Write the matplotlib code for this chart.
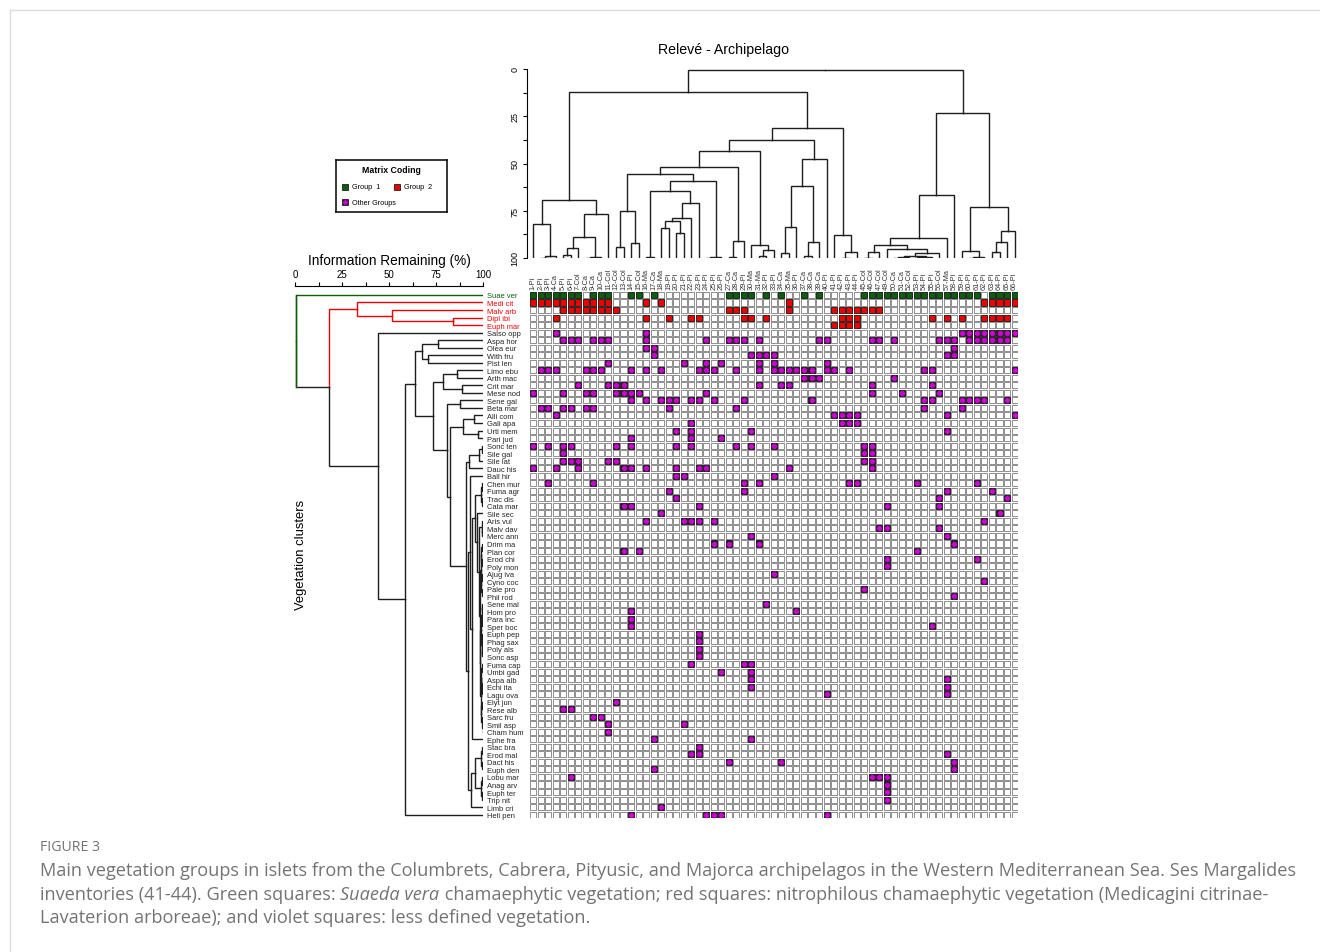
import matplotlib.pyplot as plt
from matplotlib.patches import Rectangle
from matplotlib.collections import PatchCollection

# plain Arial-like look for the plot, caption in Open Sans
plt.rcParams['font.family'] = ['Liberation Sans', 'DejaVu Sans']

W, H = 1320, 953

GREEN = '#0b5e0b'
RED = '#ee0000'
PURPLE = '#cc00d4'
INK = '#1e1e1e'

# ---------------------------------------------------------------- data
releves = ['1-Pi', '2-Pi', '3-Pi', '4-Ca', '5-Pi', '6-Pi', '7-Col', '8-Ca', '9-Ca', '10-Ca',
           '11-Col', '12-Col', '13-Col', '14-Pi', '15-Col', '16-Ma', '17-Ca', '18-Ma', '19-Pi',
           '20-Pi', '21-Pi', '22-Pi', '23-Pi', '24-Pi', '25-Pi', '26-Pi', '27-Ca', '28-Ca',
           '29-Pi', '30-Ma', '31-Ma', '32-Pi', '33-Pi', '34-Ca', '35-Ma', '36-Pi', '37-Ca',
           '38-Ca', '39-Ca', '40-Pi', '41-Pi', '42-Pi', '43-Pi', '44-Pi', '45-Col', '46-Col',
           '47-Col', '49-Col', '50-Ca', '51-Ca', '52-Col', '53-Pi', '54-Pi', '55-Pi', '56-Col',
           '57-Ma', '58-Pi', '59-Pi', '60-Pi', '61-Pi', '62-Pi', '63-Pi', '64-Pi', '65-Pi', '66-Pi']

species = ['Suae ver', 'Medi cit', 'Malv arb', 'Dipl ibi', 'Euph mar', 'Salso opp', 'Aspa hor',
           'Olea eur', 'With fru', 'Pist len', 'Limo ebu', 'Arth mac', 'Crit mar', 'Mese nod',
           'Sene gal', 'Beta mar', 'Alli com', 'Gali apa', 'Urti mem', 'Pari jud', 'Sonc ten',
           'Sile gal', 'Sile lat', 'Dauc his', 'Ball hir', 'Chen mur', 'Fuma agr', 'Trac dis',
           'Cata mar', 'Sile sec', 'Aris vul', 'Malv dav', 'Merc ann', 'Drim ma', 'Plan cor',
           'Erod chi', 'Poly mon', 'Ajug iva', 'Cyno coc', 'Pale pro', 'Phil rod', 'Sene mal',
           'Hom pro', 'Para inc', 'Sper boc', 'Euph pep', 'Phag sax', 'Poly als', 'Sonc asp',
           'Fuma cap', 'Umbi gad', 'Aspa alb', 'Echi ita', 'Lagu ova', 'Elyt jun', 'Rese alb',
           'Sarc fru', 'Smil asp', 'Cham hum', 'Ephe fra', 'Stac bra', 'Erod mal', 'Dact his',
           'Euph den', 'Lobu mar', 'Anag arv', 'Euph ter', 'Trip nit', 'Limb cri', 'Heli pen']

green_rows = [0]
red_rows = [1, 2, 3, 4]

# occupied cells, as column positions for each species row
group1_cells = {
    0: [0, 1, 2, 3, 4, 5, 6, 8, 9, 10, 13, 14, 16, 26, 27, 28, 29, 31, 33, 36, 38,
        44, 45, 46, 47, 48, 49, 50, 51, 52, 53, 54, 55, 56, 57, 58, 59, 61, 62, 63, 64],
}
group2_cells = {
    1: [0, 1, 2, 3, 4, 5, 6, 7, 8, 9, 10, 15, 17, 34, 60, 61, 62, 63, 64],
    2: [4, 5, 6, 7, 8, 9, 10, 11, 26, 27, 28, 34, 40, 41, 42, 43, 44, 45, 46],
    3: [3, 15, 18, 21, 22, 28, 29, 31, 41, 42, 43, 53, 55, 57, 60, 61, 62, 63],
    4: [40, 41, 42, 43],
}
other_cells = {
    5: [3, 15, 57, 58, 59, 60, 61, 62, 63, 64],
    6: [4, 5, 6, 8, 9, 10, 15, 23, 26, 27, 28, 30, 38, 39, 45, 46, 48, 54, 55, 56, 58, 59,
        60, 61, 62, 63],
    7: [15, 16, 56],
    8: [16, 29, 30, 31, 32, 55, 56],
    9: [10, 20, 23, 25, 30, 32, 39],
    10: [1, 2, 3, 7, 8, 9, 13, 15, 17, 22, 23, 24, 27, 30, 32, 33, 34, 35, 36, 37, 39, 40,
         42, 52, 53, 64],
    11: [36, 37, 38, 48],
    12: [6, 10, 11, 12, 30, 33, 34, 45, 53],
    13: [0, 4, 7, 8, 11, 12, 13, 14, 23, 45, 49, 54],
    14: [13, 15, 17, 18, 19, 21, 22, 24, 28, 37, 52, 53, 57, 58, 59, 60, 63],
    15: [1, 2, 4, 5, 7, 8, 18, 27, 52, 57],
    16: [3, 40, 41, 42, 43, 55, 64],
    17: [21, 41, 42, 43],
    18: [19, 21, 29, 55],
    19: [13, 21, 25],
    20: [0, 2, 4, 5, 11, 13, 19, 21, 27, 29, 32, 44, 45],
    21: [4, 44, 45],
    22: [4, 5, 6, 10, 11, 44, 45],
    23: [0, 3, 6, 12, 13, 15, 19, 22, 23, 34, 45],
    24: [19, 20, 32],
    25: [2, 8, 28, 30, 42, 43, 51, 59],
    26: [18, 28, 55, 61],
    27: [19, 54, 63],
    28: [12, 13, 22, 47, 54],
    29: [17, 62],
    30: [15, 20, 21, 22, 24, 60],
    31: [46, 47, 54],
    32: [29, 55],
    33: [24, 26, 30, 56],
    34: [12, 14, 51],
    35: [47, 59],
    36: [47],
    37: [32],
    38: [60],
    39: [44],
    40: [56],
    41: [31],
    42: [13, 35],
    43: [13],
    44: [13, 53],
    45: [22],
    46: [22],
    47: [22],
    48: [22],
    49: [21, 28, 29],
    50: [25, 29],
    51: [29, 55],
    52: [29, 55],
    53: [39, 55],
    54: [11],
    55: [4, 5],
    56: [8, 9],
    57: [10, 20],
    58: [10],
    59: [16, 29],
    60: [22],
    61: [21, 22, 55],
    62: [26, 33, 56],
    63: [16, 56],
    64: [5, 45, 46, 47],
    65: [47],
    66: [47],
    67: [47],
    68: [17],
    69: [13, 23, 24, 25, 39],
}

# dendrograms: (information remaining %, left, right); ints are leaves
releve_tree = (0.5,
    (12.3,
        (69.1,
            (81.8, 0, (98.8, (99.8, 1, 2), 3)),
            (76.7, (88.9, (94.9, (98.2, 4, 5), 6), (99.3, (99.8, 7, 8), 9)), 10)),
        (31.2,
            (37.6,
                (43.4,
                    (51.7,
                        (55.6,
                            (75.0, (94.4, 11, 12), (92.2, 13, 14)),
                            (59.1,
                                (64.4, (99.6, 15, 16),
                                 (70.9, (79.0, (80.6, (84.3, 17, 18), (86.8, 19, 20)), 21), 22)),
                                (99.6, (99.9, 23, 24), 25))),
                        (90.8, (99.5, 26, 27), 28)),
                    (93.1, 29, (95.8, (98.8, 30, 31), 32))),
                (47.6,
                    (61.7, (83.4, (97.5, 33, 34), 35), (91.4, (99.1, 36, 37), 38)),
                    39)),
            (87.7, 40, (96.6, (99.8, 41, 42), 43)))),
    (23.3,
        (66.5,
            (89.6,
                (92.9,
                    (97.0, (99.8, 44, 45), 46),
                    (95.2, 47,
                        (97.4,
                            (98.8, (99.6, (99.8, 48, 49), 50), (99.4, (99.7, 51, 52), 53)),
                            54))),
                55),
            56),
        (72.8,
            (96.1, 57, (99.5, (99.8, 58, 59), 60)),
            (85.5, (91.7, (96.6, 61, 62), 63), 64))))

species_tree = (0.4, 0,
    (18.3,
        (32.8, 1, (51.6, 2, (84.2, 3, 4))),
        (44.3, 5,
            (58.5,
                (64.0,
                    (67.7, (75.9, 6, 7), (71.0, 8, 9)),
                    (73.2,
                        (78.9, (86.0, 10, 11), (88.7, 12, 13)),
                        (80.7,
                            (87.8, 14, 15),
                            (82.4,
                                (89.5, (95.4, 16, 17), (97.1, 18, 19)),
                                (91.0,
                                    (92.7, (98.0, (99.3, 20, 21), 22), 23),
                                    (92.0,
                                        (93.0, 24,
                                            (94.0,
                                                (96.0,
                                                    (99.2, (99.6, 25, 26), (99.6, 27, 28)),
                                                    (97.0, 29,
                                                        (98.0,
                                                            (99.3, 30, (99.7, 31, 32)),
                                                            (98.4,
                                                                (98.8,
                                                                    (99.2, (99.5, 33, 34), (99.5, 35, 36)),
                                                                    (99.2, (99.5, 37, 38), (99.5, 39, 40))),
                                                                (98.6,
                                                                    (99.0,
                                                                        (99.4, (99.7, 41, 42), (99.7, 43, 44)),
                                                                        (99.4, (99.7, 45, 46), (99.7, 47, 48))),
                                                                    (98.8,
                                                                        (99.2, (99.5, 49, 50), (99.5, (99.8, 51, 52), 53)),
                                                                        (99.0, (99.5, 54, 55), (99.5, 56, (99.8, 57, 58))))))))),
                                                59)),
                                        (93.5,
                                            (95.5,
                                                (99.0, (99.6, 60, 61), (99.6, 62, 63)),
                                                (99.0, (99.6, 64, 65), (99.6, 66, 67))),
                                            68))))))),
                69))))

caption_1 = ('Main vegetation groups in islets from the Columbrets, Cabrera, Pityusic, and Majorca '
             'archipelagos in the Western Mediterranean Sea. Ses Margalides')
caption_2 = ['inventories (41-44). Green squares: ', 'Suaeda vera',
             ' chamaephytic vegetation; red squares: nitrophilous chamaephytic vegetation (Medicagini citrinae-']
caption_3 = 'Lavaterion arboreae); and violet squares: less defined vegetation.'


# ---------------------------------------------------------------- helpers
def box(x0, y0, x1, y1):
    # pixel box of the reference -> figure fraction rect
    return [x0 / W, 1 - y1 / H, (x1 - x0) / W, (y1 - y0) / H]


def leaves_of(node):
    if isinstance(node, int):
        return [node]
    return leaves_of(node[1]) + leaves_of(node[2])


def centre(node):
    if isinstance(node, int):
        return float(node)
    return (centre(node[1]) + centre(node[2])) / 2


def draw_tree(ax, node, on_top, color_of):
    if isinstance(node, int):
        return float(node), 100.0
    h, a, b = node
    pa, ha = draw_tree(ax, a, on_top, color_of)
    pb, hb = draw_tree(ax, b, on_top, color_of)
    mid = (pa + pb) / 2
    for p, hc, child in ((pa, ha, a), (pb, hb, b)):
        pos, hts = [p, p, mid], [hc, h, h]
        if on_top:
            ax.plot(pos, hts, color=color_of(child), lw=1.0, solid_joinstyle='miter')
        else:
            ax.plot(hts, pos, color=color_of(child), lw=1.0, solid_joinstyle='miter')
    return mid, h


def row_color(node):
    lv = set(leaves_of(node))
    if lv <= set(green_rows):
        return GREEN
    if lv <= set(red_rows):
        return RED
    return INK


n_rows, n_cols = len(species), len(releves)

fig = plt.figure(figsize=(W / 100, H / 100), dpi=100)

# page frame
fig.add_artist(plt.Line2D([10 / W, 1], [1 - 11 / H, 1 - 11 / H], color='#dddddd', lw=1))
fig.add_artist(plt.Line2D([10 / W, 10 / W], [0, 1 - 11 / H], color='#dddddd', lw=1))

# ---------------------------------------------------------------- matrix
ax = fig.add_axes(box(529.5, 292.2, 1018.3, 819.4))
ax.set_xlim(-0.5, n_cols - 0.5)
ax.set_ylim(n_rows - 0.5, -0.5)
for s in ax.spines.values():
    s.set_visible(False)

sz = 0.8
empty = [Rectangle((j - sz / 2, i - sz / 2), sz, sz) for i in range(n_rows) for j in range(n_cols)]
ax.add_collection(PatchCollection(empty, facecolor='white', edgecolor='#7c7c7c', linewidth=0.6))

for cells, col in ((group1_cells, GREEN), (group2_cells, RED)):
    sq = [Rectangle((j - sz / 2, i - sz / 2), sz, sz) for i, js in cells.items() for j in js]
    ax.add_collection(PatchCollection(sq, facecolor=col, edgecolor=INK, linewidth=0.6))

px = [j for i, js in other_cells.items() for j in js]
py = [i for i, js in other_cells.items() for j in js]
sq = [Rectangle((j - sz / 2, i - sz / 2), sz, sz) for j, i in zip(px, py)]
ax.add_collection(PatchCollection(sq, facecolor=INK, edgecolor=INK, linewidth=0.6))
ax.scatter(px, py, s=15, color=PURPLE, linewidths=0, zorder=3)

ax.xaxis.tick_top()
ax.set_xticks(range(n_cols))
ax.set_xticklabels(releves, rotation=90, fontsize=5.3, color='#333333')
ax.set_yticks(range(n_rows))
ax.set_yticklabels(species, fontsize=5.4, ha='left')
ax.tick_params(axis='x', length=0, pad=1.5)
ax.tick_params(axis='y', length=0, pad=30.5)
for i, lab in enumerate(ax.get_yticklabels()):
    lab.set_color(GREEN if i in green_rows else RED if i in red_rows else '#222222')

# ---------------------------------------------------------------- top dendrogram
axt = fig.add_axes(box(529.5, 70, 1018.3, 259))
draw_tree(axt, releve_tree, True, lambda n: INK)
axt.set_xlim(-0.5, n_cols - 0.5)
axt.set_ylim(100, 0)
for side in ('top', 'right', 'bottom'):
    axt.spines[side].set_visible(False)
axt.spines['left'].set_position(('outward', 2))
axt.spines['left'].set_linewidth(0.8)
axt.set_xticks([])
axt.set_yticks([0, 25, 50, 75, 100])
axt.set_yticks([12.5, 37.5, 62.5, 87.5], minor=True)
axt.set_yticklabels(['0', '25', '50', '75', '100'], rotation=90, va='center', fontsize=6.5)
axt.tick_params(axis='y', which='both', length=3, width=0.8, pad=2)
fig.text(724 / W, 1 - 50 / H, 'Relevé - Archipelago', ha='center', va='center', fontsize=10.2)

# ---------------------------------------------------------------- left dendrogram
axl = fig.add_axes(box(295, 292.2, 483, 819.4))
draw_tree(axl, species_tree, False, row_color)
# stem of the root stays green over its whole length
axl.plot([species_tree[0]] * 2, [0, centre(species_tree[2])], color=GREEN, lw=1.0)
axl.set_xlim(0, 100)
axl.set_ylim(n_rows - 0.5, -0.5)
for side in ('bottom', 'right', 'left'):
    axl.spines[side].set_visible(False)
axl.spines['top'].set_position(('outward', 3.5))
axl.spines['top'].set_linewidth(0.8)
axl.xaxis.tick_top()
axl.set_xticks([0, 25, 50, 75, 100])
axl.set_xticks([12.5, 37.5, 62.5, 87.5], minor=True)
axl.tick_params(axis='x', which='both', length=3, width=0.8, labelsize=7, pad=2)
axl.set_yticks([])
axl.set_xlabel('Information Remaining (%)', fontsize=9.8, labelpad=4)
axl.xaxis.set_label_position('top')
fig.text(301 / W, 1 - 555 / H, 'Vegetation clusters', rotation=90, ha='center', va='center',
         fontsize=9.4)

# ---------------------------------------------------------------- legend box
axg = fig.add_axes(box(336, 161, 446.5, 213))
axg.set_xlim(336, 446.5)
axg.set_ylim(213, 161)
axg.set_xticks([])
axg.set_yticks([])
for s in axg.spines.values():
    s.set_linewidth(1.1)
axg.text(391, 171, 'Matrix Coding', ha='center', va='center', fontsize=6.3, fontweight='bold')
for cx, cy, col, txt in ((345.5, 187.5, GREEN, 'Group  1'), (397, 187.5, RED, 'Group  2'),
                         (345.5, 203.3, PURPLE, 'Other Groups')):
    axg.add_patch(Rectangle((cx - 3, cy - 3), 6, 6, facecolor=col if col != PURPLE else INK,
                            edgecolor=INK, lw=0.6))
    if col == PURPLE:
        axg.scatter([cx], [cy], s=12, color=PURPLE, linewidths=0, zorder=3)
    axg.text(cx + 7, cy, txt, va='center', fontsize=5.2)

# ---------------------------------------------------------------- caption
cap = dict(family=['Open Sans', 'DejaVu Sans'], color='#737373')
fig.text(40 / W, 1 - 848 / H, 'FIGURE 3', fontsize=10.2, va='center', **cap)
fig.text(40 / W, 1 - 871 / H, caption_1, fontsize=13.1, va='center', **cap)
renderer = fig.canvas.get_renderer()
x = 40
for k, part in enumerate(caption_2):
    t = fig.text(x / W, 1 - 895 / H, part, fontsize=13.1, va='center',
                 style='italic' if k == 1 else 'normal', **cap)
    x = t.get_window_extent(renderer).x1
fig.text(40 / W, 1 - 918 / H, caption_3, fontsize=13.1, va='center', **cap)

fig.savefig('out.png', dpi=100)
